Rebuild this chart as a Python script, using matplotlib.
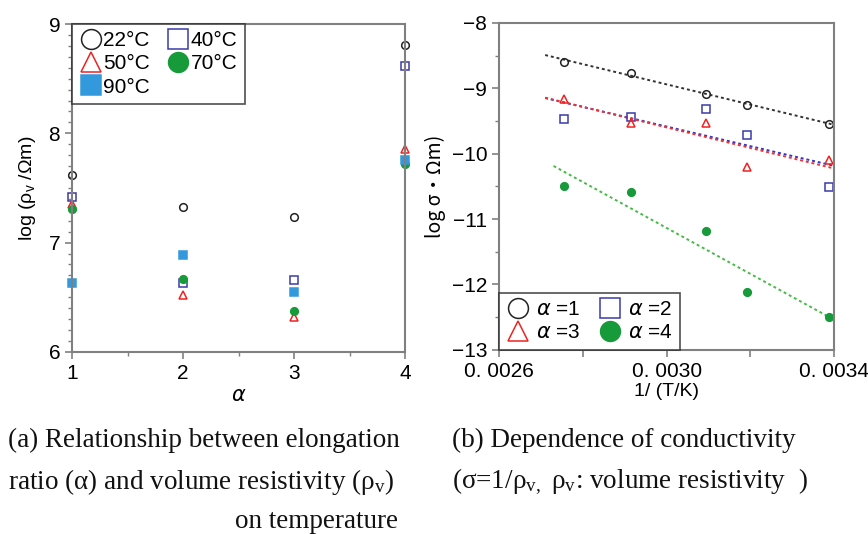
import matplotlib
matplotlib.use('Agg')
import matplotlib.pyplot as plt
from matplotlib.ticker import MultipleLocator, FixedLocator
import numpy as np

plt.rcParams['font.family'] = ['Liberation Sans', 'DejaVu Sans']
plt.rcParams['mathtext.default'] = 'regular'

# (a) log volume resistivity vs elongation ratio, one series per temperature
alpha = [1, 2, 3, 4]
temps = ['22°C', '40°C', '50°C', '70°C', '90°C']
rho_22 = [7.62, 7.33, 7.23, 8.81]
rho_40 = [7.42, 6.63, 6.66, 8.62]
rho_50 = [7.35, 6.52, 6.32, 7.86]
rho_70 = [7.31, 6.67, 6.37, 7.72]
rho_90 = [6.63, 6.89, 6.55, 7.76]

# (b) log conductivity vs 1/T, one series per alpha
inv_T = [0.002754, 0.002914, 0.003095, 0.003193, 0.003388]
alpha_labels = ['$\\it{α}$ =1', '$\\it{α}$ =2', '$\\it{α}$ =3', '$\\it{α}$ =4']
sig_a1 = [-8.59, -8.76, -9.08, -9.26, -9.54]
sig_a2 = [-9.47, -9.44, -9.31, -9.71, -10.51]
sig_a3 = [-9.17, -9.53, -9.53, -10.20, -10.10]
sig_a4 = [-10.49, -10.59, -11.19, -12.12, -12.50]
fit_x0 = [0.00271, 0.00271, 0.00271, 0.00273]
fit_x1 = [0.00340, 0.00340, 0.00340, 0.00339]

fig = plt.figure(figsize=(8.68, 5.34), dpi=100)

# styles: (marker, edge colour, face colour)
styles = [('o', '#222222', 'none'), ('s', '#3a3aa8', 'none'), ('^', '#ee2222', 'none'),
		  ('o', '#179a3a', '#179a3a'), ('s', '#3399dd', '#3399dd')]
spine_col = '#808080'

def style_axes(ax):
	for s in ax.spines.values():
		s.set_color(spine_col)
		s.set_linewidth(1.5)
	ax.tick_params(which='both', direction='out', color=spine_col, labelsize=15)
	ax.tick_params(which='major', length=5, width=1.2)
	ax.tick_params(which='minor', length=3, width=1)

def row_legend(ax, order, **kw):
	# matplotlib fills legend columns first; reorder so entries run along rows
	h, l = ax.get_legend_handles_labels()
	leg = ax.legend([h[i] for i in order], [l[i] for i in order], ncol=2, fontsize=15,
					markerscale=2.6, frameon=True, fancybox=False, borderaxespad=0,
					handlelength=1.1, labelspacing=0.2, borderpad=0.35, **kw)
	leg.get_frame().set_edgecolor('#222222')
	leg.get_frame().set_linewidth(1.2)
	return leg

# ---- (a)
ax1 = fig.add_axes([0.083, 0.341, 0.384, 0.614])
for (m, ec, fc), ys, lab in zip(styles, [rho_22, rho_40, rho_50, rho_70, rho_90], temps):
	ax1.plot(alpha, ys, linestyle='none', marker=m, markersize=5.5, markeredgecolor=ec,
			 markerfacecolor=fc, markeredgewidth=1.1, label=lab, clip_on=False)
ax1.set_xlim(1, 4)
ax1.set_ylim(6, 9)
ax1.xaxis.set_major_locator(MultipleLocator(1))
ax1.xaxis.set_minor_locator(MultipleLocator(0.5))
ax1.yaxis.set_major_locator(MultipleLocator(1))
ax1.yaxis.set_minor_locator(MultipleLocator(0.1))
style_axes(ax1)
ax1.set_xlabel('α', fontsize=15, style='italic', labelpad=2, family='DejaVu Sans')
ax1.set_ylabel('log (ρ$_v$ /Ωm)', fontsize=14, labelpad=8)
row_legend(ax1, [0, 2, 4, 1, 3], loc='upper left', handletextpad=0.05, columnspacing=0.8)

# ---- (b)
ax2 = fig.add_axes([0.575, 0.345, 0.386, 0.612])
sig_all = [sig_a1, sig_a2, sig_a3, sig_a4]
fit_cols = ['#333333', '#3333cc', '#ee3333', '#44bb44']
x = np.array(inv_T)
for i, ys in enumerate(sig_all):
	k, b = np.polyfit(x, ys, 1)
	xx = np.array([fit_x0[i], fit_x1[i]])
	ax2.plot(xx, k * xx + b, linestyle=(0, (1.5, 1.5)), color=fit_cols[i], linewidth=1.4)
for (m, ec, fc), ys, lab in zip(styles[:4], sig_all, alpha_labels):
	ax2.plot(inv_T, ys, linestyle='none', marker=m, markersize=5.5, markeredgecolor=ec,
			 markerfacecolor=fc, markeredgewidth=1.1, label=lab)
ax2.set_xlim(0.0026, 0.0034)
ax2.set_ylim(-13, -8)
ax2.xaxis.set_major_locator(FixedLocator([0.0026, 0.0028, 0.0030, 0.0032, 0.0034]))
ax2.set_xticklabels(['0. 0026', '', '0. 0030', '', '0. 0034'])
ax2.yaxis.set_major_locator(MultipleLocator(1))
ax2.yaxis.set_minor_locator(MultipleLocator(0.5))
style_axes(ax2)
ax2.set_xlabel('1/ (T/K)', fontsize=14, labelpad=2)
ax2.set_ylabel('log σ・Ωm)', fontsize=14, labelpad=4, family=['Noto Sans CJK JP', 'DejaVu Sans'])
row_legend(ax2, [0, 2, 1, 3], loc='lower left', handletextpad=0.3, columnspacing=0.9)

# captions
cap = dict(fontsize=19.5, family='Liberation Serif', va='center', color='#111111')
fig.text(0.009, 1 - 440 / 534, '(a) Relationship between elongation', ha='left', **cap)
fig.text(0.009, 1 - 482 / 534, 'ratio (α) and volume resistivity (ρ$_v$)', ha='left', **cap)
fig.text(0.459, 1 - 521 / 534, 'on temperature', ha='right', **cap)
fig.text(0.521, 1 - 440 / 534, '(b) Dependence of conductivity', ha='left', **cap)
fig.text(0.521, 1 - 482 / 534, '(σ=1/ρ$_{v,}$ ρ$_v$: volume resistivity  )', ha='left', **cap)

fig.savefig('out.png', dpi=100)
